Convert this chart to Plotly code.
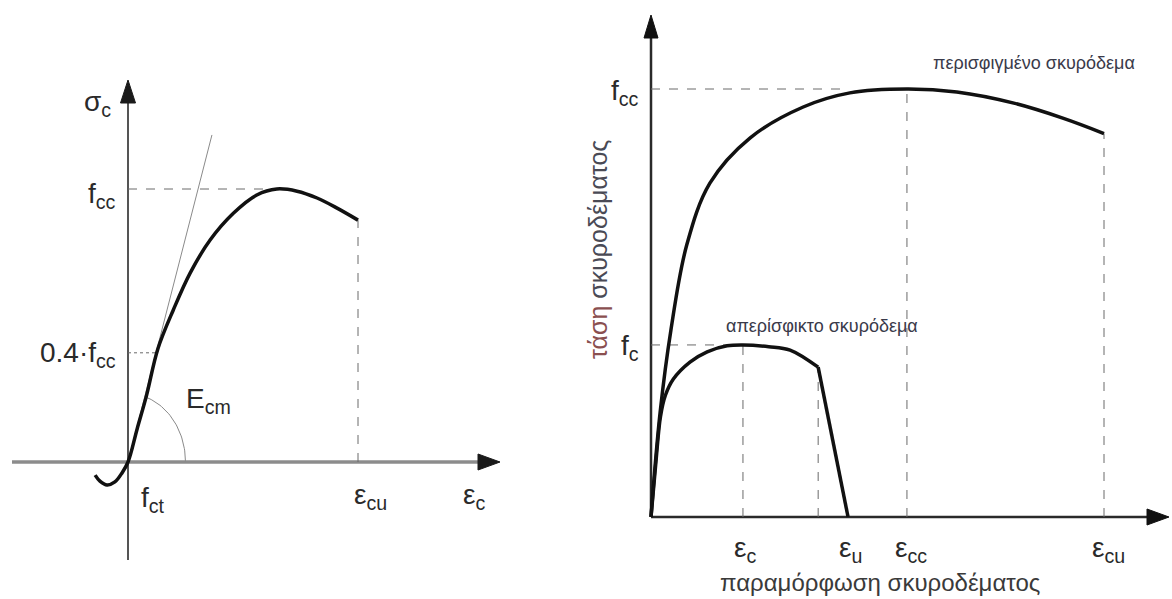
import numpy as np
import plotly.graph_objects as go

W, H = 1172, 599

# ---------------- data: left diagram (normalised: eps_cu = 1, f_cc = 1) ----------------
left_strain = [-0.143, -0.122, -0.091, -0.057, -0.026, 0.0, 0.040, 0.081, 0.130, 0.197,
               0.270, 0.357, 0.458, 0.560, 0.647, 0.735, 0.822, 0.909, 1.0]
left_stress = [-0.048, -0.070, -0.084, -0.073, -0.040, 0.0, 0.122, 0.245, 0.415, 0.557,
               0.692, 0.813, 0.911, 0.978, 1.0, 0.992, 0.967, 0.930, 0.886]
left_fcc = 1.0
left_04fcc = 0.4
left_eps_cu = 1.0
left_peak_strain = 0.647
left_tangent_end = (0.365, 1.198)   # initial modulus line E_cm

# ---------------- data: right diagram (normalised: eps_cu = 1, f_cc = 1) ----------------
conf_strain = [0.0, 0.020, 0.044, 0.079, 0.130, 0.219, 0.336, 0.439, 0.565,
               0.675, 0.801, 0.909, 1.0]
conf_stress = [0.0, 0.243, 0.437, 0.636, 0.780, 0.886, 0.958, 0.991, 1.0,
               0.993, 0.967, 0.932, 0.896]
unconf_strain = [0.0, 0.011, 0.021, 0.032, 0.049, 0.086, 0.124, 0.168, 0.203, 0.260,
                 0.307, 0.369, 0.435]
unconf_stress = [0.0, 0.130, 0.235, 0.285, 0.322, 0.362, 0.386, 0.400, 0.402, 0.398,
                 0.390, 0.350, 0.0]
r_fcc = 1.0
r_fc = 0.402
r_eps_c = 0.203
r_eps_kink = 0.369
r_eps_u = 0.435
r_eps_cc = 0.565
r_eps_cu = 1.0

# ---------------- axis geometry (pixel placement of each diagram) ----------------
# left: origin at pixel (128, 462); 230 px per strain unit, 273 px per stress unit
L_ox, L_oy, L_sx, L_sy = 128, 462, 230, 273
L_px = (0, 520)
# right: origin at pixel (651, 517); 453 px per strain unit, 428 px per stress unit
R_ox, R_oy, R_sx, R_sy = 651, 517, 453, 428
R_px = (580, 1172)


def xr(px_lo, px_hi, ox, sx):
    return [(px_lo - ox) / sx, (px_hi - ox) / sx]


def yr(oy, sy):
    return [(oy - H) / sy, (oy - 0) / sy]


FONT = "Arial, Liberation Sans, sans-serif"
TXT = "#2a2a2a"
fig = go.Figure()
curve = dict(color="#111111", width=3.5, shape="spline", smoothing=1.0)

# ---------- left diagram ----------
# thin tangent line (E_cm)
fig.add_trace(go.Scatter(x=[0, left_tangent_end[0]], y=[0, left_tangent_end[1]],
                         mode="lines", line=dict(color="#8a8a8a", width=1),
                         xaxis="x", yaxis="y", hoverinfo="skip"))
# angle arc for E_cm
ang = np.arctan2(left_tangent_end[1], left_tangent_end[0])
t = np.linspace(0, ang, 40)
fig.add_trace(go.Scatter(x=0.25 * np.cos(t), y=0.25 * np.sin(t), mode="lines",
                         line=dict(color="#8a8a8a", width=1),
                         xaxis="x", yaxis="y", hoverinfo="skip"))
# reference dashed lines
fig.add_trace(go.Scatter(x=[0, left_peak_strain], y=[left_fcc, left_fcc], mode="lines",
                         line=dict(color="#6a6a6a", width=1, dash="dash"),
                         xaxis="x", yaxis="y", hoverinfo="skip"))
fig.add_trace(go.Scatter(x=[0, left_tangent_end[0] * left_04fcc / left_tangent_end[1]],
                         y=[left_04fcc, left_04fcc], mode="lines",
                         line=dict(color="#6a6a6a", width=1, dash="dot"),
                         xaxis="x", yaxis="y", hoverinfo="skip"))
fig.add_trace(go.Scatter(x=[left_eps_cu, left_eps_cu], y=[0, left_stress[-1]], mode="lines",
                         line=dict(color="#6a6a6a", width=1, dash="dash"),
                         xaxis="x", yaxis="y", hoverinfo="skip"))
# stress-strain curve
fig.add_trace(go.Scatter(x=left_strain, y=left_stress, mode="lines", line=curve,
                         xaxis="x", yaxis="y", hoverinfo="skip"))

# ---------- right diagram ----------
dash = dict(color="#6a6a6a", width=1, dash="dash")
for xs, ys in [([0, 0.42], [r_fcc, r_fcc]),
               ([0, r_eps_c], [r_fc, r_fc]),
               ([r_eps_c, r_eps_c], [0, r_fc]),
               ([r_eps_kink, r_eps_kink], [0, unconf_stress[-2]]),
               ([r_eps_cc, r_eps_cc], [0, r_fcc]),
               ([r_eps_cu, r_eps_cu], [0, conf_stress[-1]])]:
    fig.add_trace(go.Scatter(x=xs, y=ys, mode="lines", line=dash,
                             xaxis="x2", yaxis="y2", hoverinfo="skip"))
fig.add_trace(go.Scatter(x=conf_strain, y=conf_stress, mode="lines", line=curve,
                         xaxis="x2", yaxis="y2", hoverinfo="skip"))
fig.add_trace(go.Scatter(x=unconf_strain[:-1], y=unconf_stress[:-1], mode="lines", line=curve,
                         xaxis="x2", yaxis="y2", hoverinfo="skip"))
fig.add_trace(go.Scatter(x=unconf_strain[-2:], y=unconf_stress[-2:], mode="lines",
                         line=dict(color="#111111", width=3.5),
                         xaxis="x2", yaxis="y2", hoverinfo="skip"))

# ---------- axis lines and arrow heads ----------
shapes = []


def axis_line(xref, yref, x0, y0, x1, y1, color, width):
    shapes.append(dict(type="line", xref=xref, yref=yref, x0=x0, y0=y0, x1=x1, y1=y1,
                       line=dict(color=color, width=width), layer="below"))


def arrow(xref, yref, x, y, direction, length, half, color):
    # filled triangle, tip at (x, y), sized in pixels
    if direction == "up":
        p = f"M0,0 L{-half},{-length} L{half},{-length} Z"
    else:
        p = f"M0,0 L{-length},{half} L{-length},{-half} Z"
    shapes.append(dict(type="path", xref=xref, yref=yref, xsizemode="pixel",
                       ysizemode="pixel", xanchor=x, yanchor=y, path=p,
                       fillcolor=color, line=dict(color=color, width=1)))


# left axes
axis_line("x", "y", (12 - L_ox) / L_sx, 0, (490 - L_ox) / L_sx, 0, "#8c8c8c", 3.5)
axis_line("x", "y", 0, (L_oy - 560) / L_sy, 0, (L_oy - 95) / L_sy, "#555555", 2)
arrow("x", "y", (500 - L_ox) / L_sx, 0, "right", 22, 8, "#1a1a1a")
arrow("x", "y", 0, (L_oy - 80) / L_sy, "up", 23, 7.5, "#1a1a1a")
# right axes
axis_line("x2", "y2", 0, 0, (1150 - R_ox) / R_sx, 0, "#2a2a2a", 2.5)
axis_line("x2", "y2", 0, 0, 0, (R_oy - 35) / R_sy, "#2a2a2a", 2.5)
arrow("x2", "y2", (1169 - R_ox) / R_sx, 0, "right", 22, 8, "#111111")
arrow("x2", "y2", 0, (R_oy - 15) / R_sy, "up", 23, 7, "#111111")

# ---------- text ----------
ann = []


def label(xref, yref, x, y, text, size, xanchor="center", yanchor="middle", color=TXT, angle=0):
    ann.append(dict(xref=xref, yref=yref, x=x, y=y, text=text, showarrow=False,
                    xanchor=xanchor, yanchor=yanchor, textangle=angle,
                    font=dict(family=FONT, size=size, color=color)))


def lp(px, py):
    return (px - L_ox) / L_sx, (L_oy - py) / L_sy


def rp(px, py):
    return (px - R_ox) / R_sx, (R_oy - py) / R_sy


S = 28
label("x", "y", *lp(113, 103), "σ<sub>c</sub>", S, "right")
label("x", "y", *lp(118, 195), "f<sub>cc</sub>", S, "right")
label("x", "y", *lp(118, 354), "0.4·f<sub>cc</sub>", S, "right")
label("x", "y", *lp(184, 400), "E<sub>cm</sub>", S, "left")
label("x", "y", *lp(139, 499), "f<sub>ct</sub>", S, "left")
label("x", "y", *lp(370, 496), "ε<sub>cu</sub>", S)
label("x", "y", *lp(474, 496), "ε<sub>c</sub>", S)

label("x2", "y2", *rp(641, 92), "f<sub>cc</sub>", S, "right")
label("x2", "y2", *rp(641, 347), "f<sub>c</sub>", S, "right")
label("x2", "y2", *rp(745, 549), "ε<sub>c</sub>", S)
label("x2", "y2", *rp(850, 549), "ε<sub>u</sub>", S)
label("x2", "y2", *rp(911, 549), "ε<sub>cc</sub>", S)
label("x2", "y2", *rp(1108, 549), "ε<sub>cu</sub>", S)
label("x2", "y2", *rp(880, 582), "παραμόρφωση σκυροδέματος", 24, color="#3a3a3a")
label("x2", "y2", *rp(598, 250),
      "<span style='color:#8a4f50'>τάση</span> σκυροδέματος", 25, color="#4a4a55", angle=-90)
label("x2", "y2", *rp(931, 63), "περισφιγμένο σκυρόδεμα", 18, "left", color="#3a3a4a")
label("x2", "y2", *rp(822, 326), "απερίσφικτο σκυρόδεμα", 18, color="#3a3a4a")

hidden = dict(visible=False, showgrid=False, zeroline=False, fixedrange=True)
fig.update_layout(
    width=W, height=H, autosize=False,
    margin=dict(l=0, r=0, t=0, b=0),
    paper_bgcolor="white", plot_bgcolor="white",
    showlegend=False,
    xaxis=dict(domain=[L_px[0] / W, L_px[1] / W], range=xr(*L_px, L_ox, L_sx), **hidden),
    yaxis=dict(domain=[0, 1], range=yr(L_oy, L_sy), **hidden),
    xaxis2=dict(domain=[R_px[0] / W, R_px[1] / W], range=xr(*R_px, R_ox, R_sx), anchor="y2", **hidden),
    yaxis2=dict(domain=[0, 1], range=yr(R_oy, R_sy), anchor="x2", **hidden),
    shapes=shapes,
    annotations=ann,
)

fig.write_html("out.html", config=dict(displayModeBar=False))
